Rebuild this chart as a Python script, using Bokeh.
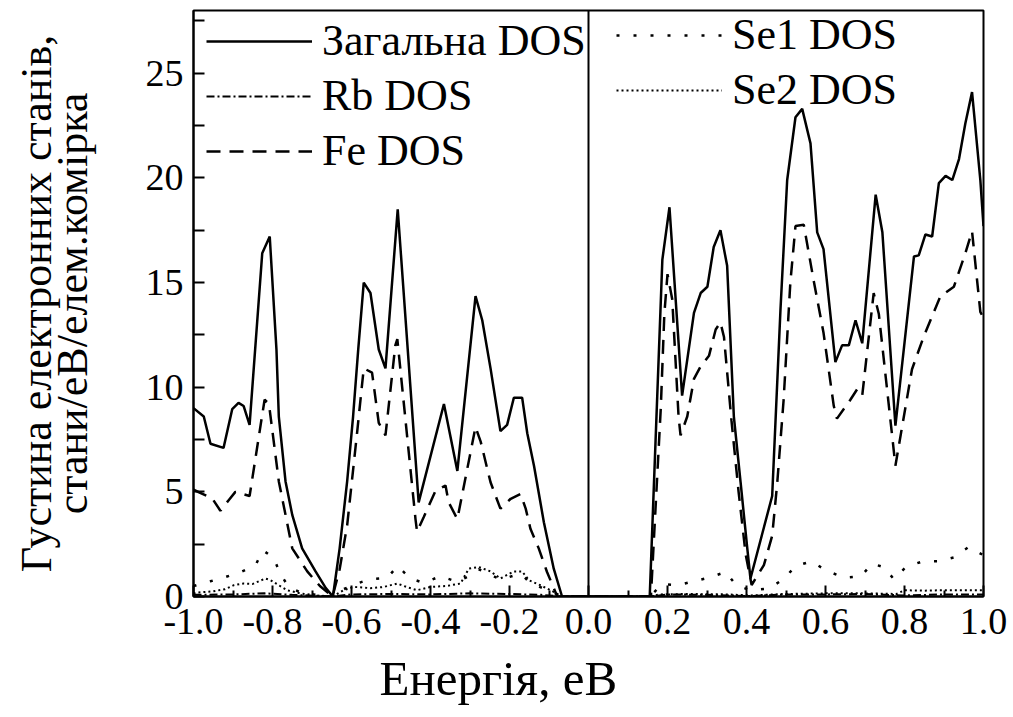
from bokeh.plotting import figure
from bokeh.models import (Legend, LegendItem, Span, Title, Range1d, FixedTicker,
                          PrintfTickFormatter, LinearAxis)
from bokeh.embed import file_html
from bokeh.resources import INLINE

# ---------------- data ----------------
e_total = [-1.000, -0.974, -0.957, -0.924, -0.902, -0.886, -0.873, -0.858, -0.826, -0.807,
           -0.790, -0.784, -0.767, -0.750, -0.725, -0.691, -0.665, -0.647,
           -0.630, -0.611, -0.596, -0.583, -0.569, -0.552, -0.531, -0.514, -0.483,
           -0.430, -0.366, -0.332, -0.286, -0.269, -0.248, -0.223, -0.206, -0.189,
           -0.168, -0.155, -0.138, -0.113, -0.088, -0.067,
           0.155, 0.187, 0.205, 0.237, 0.267, 0.284, 0.301, 0.317, 0.334, 0.351,
           0.368, 0.385, 0.402, 0.410, 0.465, 0.486, 0.503, 0.524, 0.541, 0.562,
           0.579, 0.595, 0.625, 0.642, 0.659, 0.676, 0.693, 0.727, 0.744, 0.777,
           0.824, 0.836, 0.853, 0.870, 0.887, 0.904, 0.921, 0.938, 0.954, 0.971,
           0.992, 1.000]
dos_total = [9.0, 8.6, 7.3, 7.1, 8.95, 9.25, 9.1, 8.2, 16.4, 17.2,
             11.8, 8.6, 5.5, 3.9, 2.3, 1.2, 0.4, 0.0,
             2.3, 5.5, 8.6, 11.8, 15.0, 14.5, 11.8, 10.9, 18.5,
             4.5, 9.2, 6.0, 14.35, 13.2, 10.9, 7.9, 8.2, 9.5,
             9.5, 7.8, 6.25, 3.55, 1.33, 0.0,
             0.0, 16.1, 18.6, 9.6, 13.55, 14.5, 14.8, 16.7, 17.5, 15.8,
             8.6, 5.46, 2.3, 0.86, 4.8, 13.7, 19.9, 22.9, 23.3, 21.65,
             17.4, 16.6, 11.2, 12.0, 12.0, 13.2, 12.1, 19.2, 17.4, 8.16,
             16.25, 16.3, 17.3, 17.2, 19.75, 20.1, 19.9, 20.9, 22.6, 24.1,
             19.9, 17.7]

e_fe = [-1.000, -0.953, -0.932, -0.911, -0.894, -0.858, -0.830, -0.820, -0.809,
        -0.784, -0.767, -0.750, -0.712, -0.680, -0.648,
        -0.630, -0.611, -0.586, -0.569, -0.548, -0.531, -0.514, -0.489, -0.484,
        -0.438, -0.434, -0.417, -0.387, -0.362, -0.354, -0.332, -0.286, -0.273,
        -0.248, -0.235, -0.223, -0.197, -0.172, -0.159, -0.147, -0.126, -0.105, -0.079,
        0.158, 0.183, 0.192, 0.200, 0.212, 0.228, 0.233, 0.250, 0.267, 0.284,
        0.305, 0.322, 0.334, 0.343, 0.362, 0.380, 0.398, 0.413, 0.444, 0.465,
        0.478, 0.494, 0.511, 0.524, 0.545, 0.570, 0.595, 0.621, 0.629, 0.663,
        0.680, 0.693, 0.722, 0.735, 0.777, 0.819, 0.849, 0.891, 0.925, 0.954,
        0.971, 0.992, 1.000]
dos_fe = [5.1, 4.7, 4.1, 4.6, 5.0, 4.8, 8.2, 9.4, 9.2,
          5.5, 3.9, 2.3, 1.2, 0.5, 0.0,
          1.3, 3.4, 7.8, 10.9, 10.7, 8.3, 7.7, 12.0, 12.3,
          3.7, 3.1, 3.8, 5.06, 5.3, 4.5, 3.7, 8.1, 7.4,
          5.46, 4.8, 4.2, 4.67, 4.9, 4.2, 3.24, 2.3, 1.17, 0.0,
          0.0, 9.0, 13.5, 15.4, 14.2, 8.6, 7.7, 8.6, 10.4, 11.0,
          11.5, 12.76, 13.1, 12.4, 8.4, 5.0, 2.0, 0.55, 1.5, 2.9,
          5.46, 9.4, 15.0, 17.7, 17.76, 15.1, 12.6, 9.1, 8.5, 9.4,
          9.9, 9.6, 14.5, 13.5, 6.25, 10.86, 12.44, 14.35, 14.8, 16.4,
          17.45, 13.6, 13.3]

e_rb = [-1.0, -0.9, -0.82, -0.75, -0.647, -0.6, -0.5, -0.4, -0.3, -0.2, -0.12, -0.067,
        0.155, 0.2, 0.3, 0.41, 0.5, 0.6, 0.7, 0.8, 0.9, 1.0]
dos_rb = [0.08, 0.1, 0.15, 0.08, 0.0, 0.1, 0.12, 0.1, 0.15, 0.12, 0.08, 0.0,
          0.0, 0.1, 0.08, 0.02, 0.1, 0.1, 0.12, 0.05, 0.1, 0.1]

e_se1 = [-1.000, -0.957, -0.919, -0.877, -0.843, -0.824, -0.797, -0.781, -0.759, -0.730,
         -0.690, -0.647, -0.620, -0.590, -0.552, -0.510, -0.483, -0.451, -0.417, -0.375,
         -0.332, -0.300, -0.278, -0.248, -0.223, -0.189, -0.168, -0.151, -0.122, -0.090,
         -0.067,
         0.155, 0.187, 0.226, 0.267, 0.305, 0.347, 0.374, 0.410, 0.456, 0.494,
         0.524, 0.564, 0.604, 0.648, 0.690, 0.718, 0.748, 0.773, 0.803, 0.846,
         0.885, 0.925, 0.963, 1.000]
dos_se1 = [0.5, 0.73, 0.93, 1.2, 1.5, 2.2, 1.85, 1.1, 0.46, 0.2,
           0.08, 0.0, 0.35, 0.6, 0.83, 0.89, 1.45, 0.86, 0.65, 0.97,
           0.7, 1.0, 1.3, 1.05, 0.8, 1.0, 1.05, 0.7, 0.45, 0.2,
           0.0,
           0.0, 0.59, 0.54, 0.73, 0.9, 1.17, 0.54, 0.3, 0.38, 0.83,
           1.45, 1.68, 1.22, 0.9, 0.97, 1.57, 1.4, 0.83, 1.4, 1.68,
           1.68, 1.87, 2.37, 1.97]

e_se2 = [-1.000, -0.990, -0.950, -0.920, -0.898, -0.873, -0.850, -0.818, -0.805, -0.785,
         -0.763, -0.730, -0.690, -0.647, -0.620, -0.594, -0.552, -0.520, -0.484, -0.460,
         -0.434, -0.400, -0.360, -0.324, -0.303, -0.278, -0.248, -0.223, -0.189, -0.168,
         -0.151, -0.122, -0.088, -0.067,
         0.155, 0.180, 0.250, 0.350, 0.410, 0.500, 0.600, 0.700, 0.780, 0.800,
         0.850, 0.900, 0.950, 1.000]
dos_se2 = [0.15, 0.19, 0.25, 0.35, 0.54, 0.62, 0.6, 0.86, 0.78, 0.55,
           0.3, 0.15, 0.05, 0.0, 0.3, 0.46, 0.4, 0.45, 0.62, 0.45,
           0.3, 0.46, 0.5, 0.62, 1.33, 1.41, 1.2, 0.86, 1.2, 1.2,
           0.78, 0.54, 0.22, 0.0,
           0.0, 0.1, 0.12, 0.1, 0.05, 0.12, 0.15, 0.15, 0.12, 0.3,
           0.28, 0.3, 0.3, 0.3]

x_ticks = [-1.0, -0.8, -0.6, -0.4, -0.2, 0.0, 0.2, 0.4, 0.6, 0.8, 1.0]
x_minor = [-0.9, -0.7, -0.5, -0.3, -0.1, 0.1, 0.3, 0.5, 0.7, 0.9]
y_ticks = [0, 5, 10, 15, 20, 25]
y_minor = [2.5, 7.5, 12.5, 17.5, 22.5, 27.5]
fermi_level = 0.0

x_title = "Енергія, еВ"
y_title_line1 = "Густина електронних станів,"
y_title_line2 = "стани/еВ/елем.комірка"

FONT = "Liberation Serif"

p = figure(width=1013, height=717, output_backend="svg", toolbar_location=None,
           x_range=Range1d(-1.0, 1.0), y_range=Range1d(0, 28),
           min_border_left=193, min_border_right=30, min_border_top=10,
           min_border_bottom=119)
p.grid.visible = False
p.background_fill_color = "white"
p.border_fill_color = "white"
p.outline_line_color = "black"
p.outline_line_width = 2

r_total = p.line(e_total, dos_total, line_color="black", line_width=2.5)
r_rb = p.line(e_rb, dos_rb, line_color="black", line_width=2, line_dash="8 3 2 3")
r_fe = p.line(e_fe, dos_fe, line_color="black", line_width=2.5, line_dash="14 9")
r_se1 = p.line(e_se1, dos_se1, line_color="black", line_width=2.5, line_dash="3 14")
r_se2 = p.line(e_se2, dos_se2, line_color="black", line_width=2, line_dash="2 3")

p.add_layout(Span(location=fermi_level, dimension="height", line_color="black", line_width=2))

for ax in (p.xaxis[0], p.yaxis[0]):
    ax.axis_line_width = 2
    ax.major_tick_line_width = 2
    ax.minor_tick_line_width = 2
    ax.major_tick_out = 0
    ax.minor_tick_out = 0
    ax.major_label_text_font = FONT
    ax.major_label_text_font_size = "38px"
    ax.major_label_text_color = "black"
    ax.axis_label_text_font = FONT
    ax.axis_label_text_font_style = "normal"
    ax.axis_label_text_color = "black"

p.xaxis.ticker = FixedTicker(ticks=x_ticks, minor_ticks=x_minor)
p.xaxis.formatter = PrintfTickFormatter(format="%.1f")
p.xaxis.major_tick_in = 11
p.xaxis.minor_tick_in = 6
p.xaxis.major_label_standoff = 12

p.yaxis.ticker = FixedTicker(ticks=y_ticks, minor_ticks=y_minor)
p.yaxis.major_tick_in = 11
p.yaxis.minor_tick_in = 11
p.yaxis.major_label_standoff = 10
p.yaxis.axis_label = y_title_line2
p.yaxis.axis_label_text_font_size = "44px"
p.yaxis.axis_label_standoff = 46

# outer (first) line of the y title on a bare extra axis
y_outer = LinearAxis(axis_label=y_title_line1, ticker=FixedTicker(ticks=[]),
                     axis_line_color=None, major_tick_line_color=None,
                     minor_tick_line_color=None, major_tick_in=0, major_tick_out=0,
                     minor_tick_in=0, minor_tick_out=0, major_label_standoff=0,
                     axis_label_standoff=-16, axis_label_text_font=FONT,
                     axis_label_text_font_size="44px", axis_label_text_font_style="normal",
                     axis_label_text_color="black")
p.add_layout(y_outer, "left")

p.add_layout(Title(text=x_title, align="left", offset=186, standoff=24,
                   text_font=FONT, text_font_size="49px", text_font_style="normal",
                   text_color="black"), "below")

def make_legend(items, loc):
    lg = Legend(items=items, location=loc, orientation="vertical")
    lg.label_text_font = FONT
    lg.label_text_font_size = "44px"
    lg.label_text_color = "black"
    lg.glyph_width = 106
    lg.glyph_height = 48
    lg.label_height = 48
    lg.spacing = 4
    lg.padding = 7
    lg.margin = 0
    lg.label_standoff = 10
    lg.border_line_color = None
    lg.background_fill_alpha = 0
    return lg

leg1 = make_legend([LegendItem(label="Загальна DOS", renderers=[r_total]),
                    LegendItem(label="Rb DOS", renderers=[r_rb]),
                    LegendItem(label="Fe DOS", renderers=[r_fe])], (13, 420))
leg2 = make_legend([LegendItem(label="Se1 DOS", renderers=[r_se1]),
                    LegendItem(label="Se2 DOS", renderers=[r_se2])], (423, 481))
p.add_layout(leg1)
p.add_layout(leg2)

open("out.html", "w").write(file_html(p, INLINE))
